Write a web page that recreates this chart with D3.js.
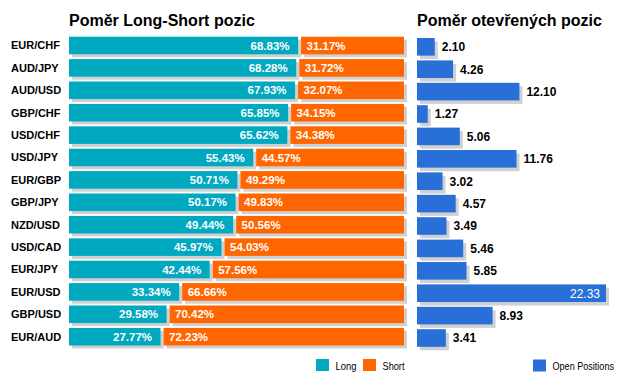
<!DOCTYPE html>
<html><head><meta charset="utf-8">
<script src="https://cdn.jsdelivr.net/npm/d3@7"></script>
<style>
html,body{margin:0;padding:0;background:#fff;}
svg{display:block;font-family:"Liberation Sans",Arial,sans-serif;}
</style></head>
<body>
<svg id="c" width="623" height="381"></svg>
<script>
const pairs = ["EUR/CHF","AUD/JPY","AUD/USD","GBP/CHF","USD/CHF","USD/JPY","EUR/GBP","GBP/JPY","NZD/USD","USD/CAD","EUR/JPY","EUR/USD","GBP/USD","EUR/AUD"];
const longPct = [68.83,68.28,67.93,65.85,65.62,55.43,50.71,50.17,49.44,45.97,42.44,33.34,29.58,27.77];
const shortPct = [31.17,31.72,32.07,34.15,34.38,44.57,49.29,49.83,50.56,54.03,57.56,66.66,70.42,72.23];
const openPos = [2.10,4.26,12.10,1.27,5.06,11.76,3.02,4.57,3.49,5.46,5.85,22.33,8.93,3.41];
const titles = ["Poměr Long-Short pozic","Poměr otevřených pozic"];
const legendLeft = ["Long","Short"];
const legendRight = ["Open Positions"];

const TEAL="#00A8C0", ORANGE="#FF6600", BLUE="#2870D8", SHADOW="#D0D0D0";
const svg = d3.select("#c");
const data = pairs.map((p,i)=>({pair:p,long:longPct[i],short:shortPct[i],open:openPos[i]}));

const step = 22.4;
const yL = d3.scaleBand().domain(pairs).range([34.3, 34.3+14*step]).paddingInner(0.214).paddingOuter(0.107);
const yR = d3.scaleBand().domain(pairs).range([35.6, 35.6+14*step]).paddingInner(0.214).paddingOuter(0.107);
const xL = d3.scaleLinear().domain([0,100]).range([69,404]);
const xR = d3.scaleLinear().domain([0,d3.max(openPos)]).range([417,606]);
const bh = yL.bandwidth();

// titles
svg.append("text").attr("x",69).attr("y",26).attr("font-size",16).attr("font-weight","bold").attr("fill","#000").text(titles[0]);
svg.append("text").attr("x",417).attr("y",26).attr("font-size",16).attr("font-weight","bold").attr("fill","#000").text(titles[1]);

// left chart
const gL = svg.append("g");
const rowL = gL.selectAll("g").data(data).join("g").attr("transform",d=>`translate(0,${yL(d.pair)})`);
rowL.append("rect").attr("x",xL(0)+3).attr("y",3).attr("width",d=>xL(d.long)-1.5-xL(0)).attr("height",bh).attr("fill",SHADOW);
rowL.append("rect").attr("x",d=>xL(d.long)+1.5+3).attr("y",3).attr("width",d=>xL(100)-xL(d.long)-1.5).attr("height",bh).attr("fill",SHADOW);
rowL.append("rect").attr("x",xL(0)).attr("y",0).attr("width",d=>xL(d.long)-1.5-xL(0)).attr("height",bh).attr("fill",TEAL);
rowL.append("rect").attr("x",d=>xL(d.long)+1.5).attr("y",0).attr("width",d=>xL(100)-xL(d.long)-1.5).attr("height",bh).attr("fill",ORANGE);
rowL.append("text").attr("x",11).attr("y",bh/2+4).attr("font-size",11).attr("font-weight","bold").attr("fill","#000").text(d=>d.pair);
rowL.append("text").attr("x",d=>xL(d.long)-10).attr("y",bh/2+4.2).attr("text-anchor","end").attr("font-size",11.5).attr("font-weight","bold").attr("fill","#fff").text(d=>d.long.toFixed(2)+"%");
rowL.append("text").attr("x",d=>xL(d.long)+7).attr("y",bh/2+4.2).attr("font-size",11.5).attr("font-weight","bold").attr("fill","#fff").text(d=>d.short.toFixed(2)+"%");

// right chart
const gR = svg.append("g");
const rowR = gR.selectAll("g").data(data).join("g").attr("transform",d=>`translate(0,${yR(d.pair)})`);
rowR.append("rect").attr("x",xR(0)+3).attr("y",3.5).attr("width",d=>xR(d.open)-xR(0)).attr("height",bh).attr("fill",SHADOW);
rowR.append("rect").attr("x",xR(0)).attr("y",0).attr("width",d=>xR(d.open)-xR(0)).attr("height",bh).attr("fill",BLUE);
const maxOpen = d3.max(openPos);
rowR.append("text")
  .attr("x",d=>d.open===maxOpen? xR(d.open)-6 : xR(d.open)+7)
  .attr("y",bh/2+4.5)
  .attr("text-anchor",d=>d.open===maxOpen?"end":"start")
  .attr("font-size",12)
  .attr("font-weight",d=>d.open===maxOpen?"normal":"bold")
  .attr("fill",d=>d.open===maxOpen?"#fff":"#000")
  .text(d=>d.open.toFixed(2));

// legends
const legL = [{t:legendLeft[0],c:TEAL,x:316,w:21},{t:legendLeft[1],c:ORANGE,x:363,w:22}];
legL.forEach(l=>{
  svg.append("rect").attr("x",l.x).attr("y",359).attr("width",13).attr("height",12).attr("fill",l.c);
  svg.append("text").attr("x",l.x+19.5).attr("y",369.5).attr("font-size",10.5).attr("fill","#000")
    .attr("textLength",l.w).attr("lengthAdjust","spacingAndGlyphs").text(l.t);
});
svg.append("rect").attr("x",533).attr("y",359.5).attr("width",13).attr("height",12).attr("fill",BLUE);
svg.append("text").attr("x",552.5).attr("y",370).attr("font-size",10.5).attr("fill","#000")
  .attr("textLength",61.5).attr("lengthAdjust","spacingAndGlyphs").text(legendRight[0]);
</script>
</body></html>
